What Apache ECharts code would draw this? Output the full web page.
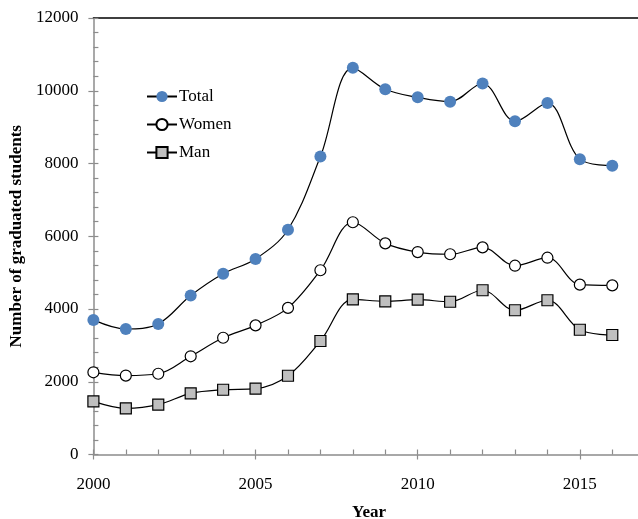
<!DOCTYPE html>
<html>
<head>
<meta charset="utf-8">
<script src="https://cdn.jsdelivr.net/npm/echarts@6/dist/echarts.min.js"></script>
<style>html,body{margin:0;padding:0;background:#fff;overflow:hidden;width:638px;height:519px}#c{width:745px;height:519px}</style>
</head>
<body>
<div id="c"></div>
<script>
var years = [2000,2001,2002,2003,2004,2005,2006,2007,2008,2009,2010,2011,2012,2013,2014,2015,2016];
var total = [3700,3450,3590,4370,4970,5375,6180,8190,10630,10040,9820,9700,10200,9160,9660,8120,7940];
var women = [2260,2170,2220,2700,3210,3550,4030,5065,6385,5805,5565,5505,5695,5190,5410,4670,4650];
var man   = [1460,1270,1370,1680,1780,1810,2165,3120,4265,4210,4255,4200,4515,3965,4240,3430,3285];
var seriesNames = ['Total','Women','Man'];
var xTicks = [2000,2005,2010,2015];
var yTicks = [0,2000,4000,6000,8000,10000,12000];

function pairs(arr){ return years.map(function(y,i){ return [y, arr[i]]; }); }

var FONT = 'Liberation Serif';
var axisGray = '#8c8c8c';
var chart = echarts.init(document.getElementById('c'), null, {renderer:'canvas'});
var baseX = { type:'value', min:2000, max:2020, interval:5, gridIndex:0 };
chart.setOption({
  animation:false,
  textStyle:{fontFamily:FONT, color:'#000'},
  grid:{left:91, top:18, right:0, bottom:64.5, containLabel:false},
  legend:{
    left:141, top:83, orient:'vertical', itemGap:11, itemWidth:30, itemHeight:14,
    data:seriesNames,
    textStyle:{fontFamily:FONT, fontSize:17, color:'#000', padding:[0,0,0,-3]}
  },
  xAxis:[
    Object.assign({}, baseX, {
      position:'bottom',
      axisLine:{onZero:false, lineStyle:{color:axisGray, width:1.5}},
      axisTick:{show:true, inside:false, length:5, lineStyle:{color:axisGray, width:1.2}},
      minorTick:{show:false},
      splitLine:{show:false},
      axisLabel:{margin:22, fontFamily:FONT, fontSize:17, color:'#000',
        formatter:function(v){ return xTicks.indexOf(v) >= 0 ? String(v) : ''; }}
    }),
    Object.assign({}, baseX, {
      position:'bottom',
      axisLine:{show:false, onZero:false},
      axisTick:{show:true, inside:true, length:5, lineStyle:{color:axisGray, width:1.2}},
      minorTick:{show:true, splitNumber:5, length:5, lineStyle:{color:axisGray, width:1.2}},
      splitLine:{show:false},
      axisLabel:{show:false}
    }),
    Object.assign({}, baseX, {
      position:'top',
      axisLine:{show:true, onZero:false, lineStyle:{color:'#000', width:1.5}},
      axisTick:{show:false}, minorTick:{show:false}, splitLine:{show:false}, axisLabel:{show:false}
    })
  ],
  yAxis:[
    {
      type:'value', min:0, max:12000, interval:2000, position:'left',
      name:'Number of graduated students', nameLocation:'middle', nameGap:59,
      nameTextStyle:{fontFamily:FONT, fontSize:17, fontWeight:'bold', color:'#000'},
      axisLine:{show:true, onZero:false, lineStyle:{color:axisGray, width:1.5}},
      axisTick:{show:true, inside:false, length:5, lineStyle:{color:axisGray, width:1.2}},
      minorTick:{show:false},
      splitLine:{show:false},
      axisLabel:{margin:15, fontFamily:FONT, fontSize:17, color:'#000',
        formatter:function(v){ return yTicks.indexOf(v) >= 0 ? String(v) : ''; }}
    },
    {
      type:'value', min:0, max:12000, interval:2000, position:'left',
      axisLine:{show:false, onZero:false},
      axisTick:{show:true, inside:true, length:5, lineStyle:{color:axisGray, width:1.2}},
      minorTick:{show:true, splitNumber:5, length:5, lineStyle:{color:axisGray, width:1.2}},
      splitLine:{show:false},
      axisLabel:{show:false}
    }
  ],
  graphic:[{
    type:'text', left:352, top:504,
    style:{text:'Year', font:'bold 17px "Liberation Serif"', fill:'#000'}
  }],
  series:[
    {
      name:'Total', type:'line', data:pairs(total), smooth:0.35,
      symbol:'circle', symbolSize:12,
      itemStyle:{color:'#4F81BD', borderColor:'#4F81BD', borderWidth:0},
      lineStyle:{color:'#000', width:1.2}, z:3
    },
    {
      name:'Women', type:'line', data:pairs(women), smooth:0.35,
      symbol:'circle', symbolSize:11,
      itemStyle:{color:'#fff', borderColor:'#000', borderWidth:1.2},
      lineStyle:{color:'#000', width:1.2}, z:3
    },
    {
      name:'Man', type:'line', data:pairs(man), smooth:0.35,
      symbol:'rect', symbolSize:11,
      itemStyle:{color:'#BFBFBF', borderColor:'#000', borderWidth:1.2},
      lineStyle:{color:'#000', width:1.2}, z:3
    }
  ]
});
</script>
</body>
</html>
